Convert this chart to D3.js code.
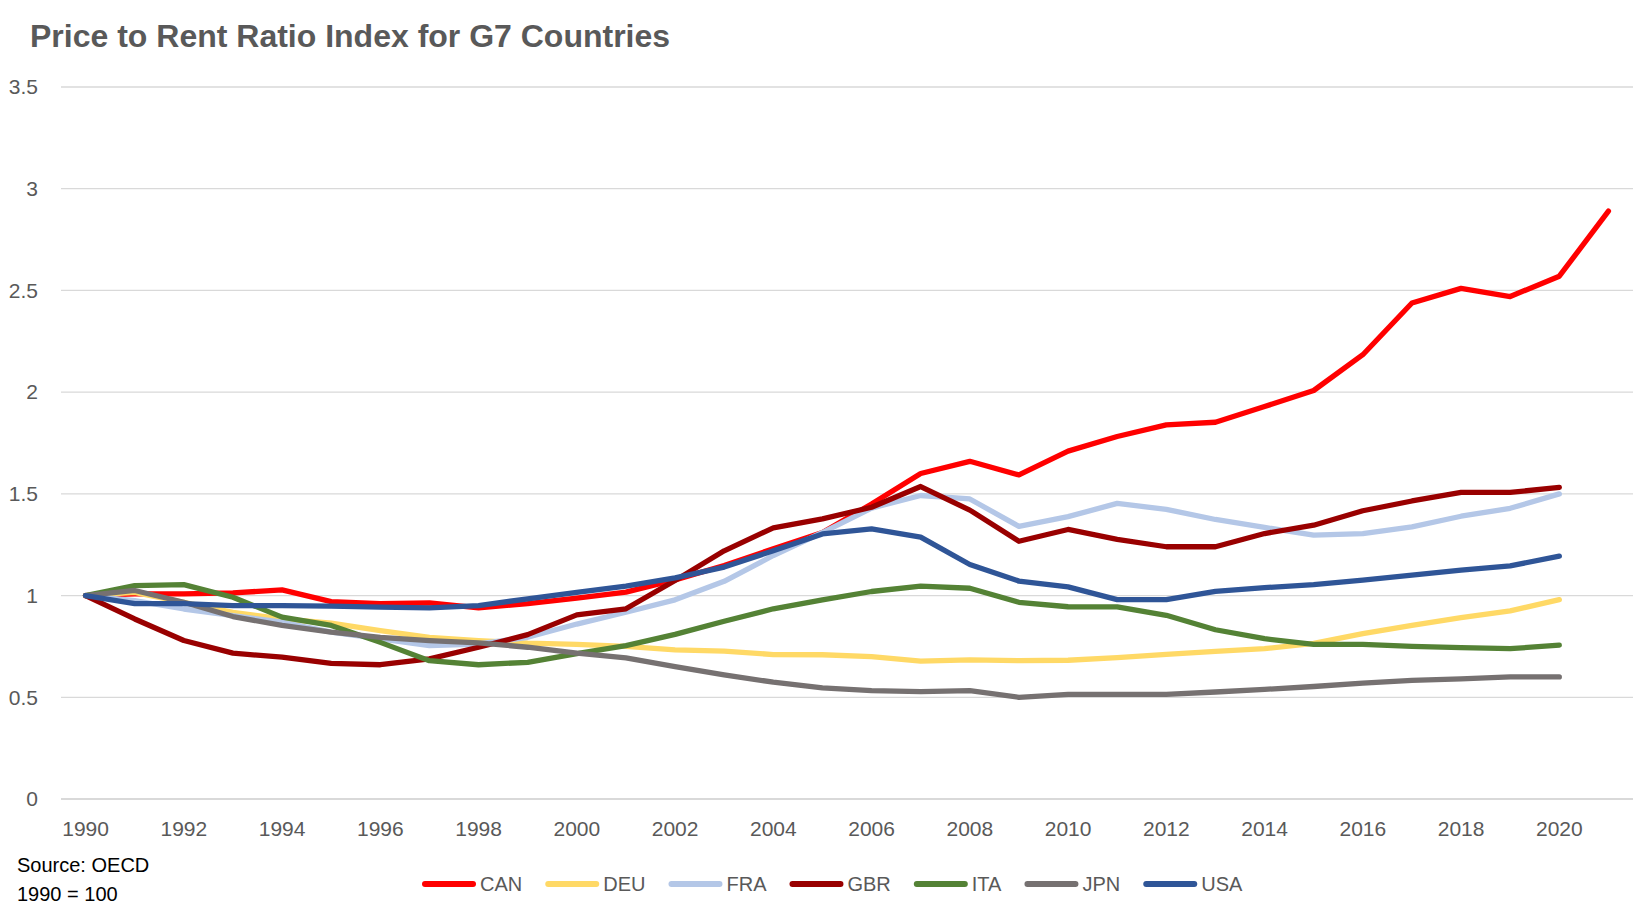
<!DOCTYPE html>
<html>
<head>
<meta charset="utf-8">
<title>Price to Rent Ratio Index for G7 Countries</title>
<script src="https://cdn.jsdelivr.net/npm/d3@7"></script>
<style>
  html, body { margin: 0; padding: 0; background: #ffffff; }
  svg { display: block; font-family: "Liberation Sans", Arial, sans-serif; }
</style>
</head>
<body>
<svg id="chart"></svg>
<script>
// ------------------------------------------------------------
// LINE CHART
// Price to rent ratio index (1990 = 1) for the G7 countries.
// ------------------------------------------------------------

// Years on the category axis (Canada has one extra year).
const years = d3.range(1990, 2022);
const yearTicks = d3.range(1990, 2021, 2);
const yTicks = [0, 0.5, 1, 1.5, 2, 2.5, 3, 3.5];

// Series values, one per year starting in 1990.
const CAN = [1.0, 1.008, 1.008, 1.013, 1.028, 0.97, 0.96, 0.964, 0.94, 0.96,
  0.987, 1.017, 1.077, 1.148, 1.23, 1.31, 1.45, 1.60, 1.66, 1.593,
  1.71, 1.782, 1.839, 1.852, 1.929, 2.008, 2.184, 2.438, 2.51, 2.47,
  2.57, 2.89];
const DEU = [1.0, 1.016, 0.967, 0.918, 0.885, 0.864, 0.828, 0.795, 0.779, 0.766,
  0.76, 0.75, 0.733, 0.727, 0.71, 0.709, 0.70, 0.678, 0.684, 0.68,
  0.682, 0.695, 0.711, 0.726, 0.739, 0.765, 0.813, 0.854, 0.892, 0.925,
  0.98];
const FRA = [1.0, 0.975, 0.934, 0.902, 0.869, 0.82, 0.787, 0.754, 0.762, 0.795,
  0.86, 0.918, 0.979, 1.07, 1.197, 1.31, 1.43, 1.492, 1.475, 1.34,
  1.388, 1.453, 1.424, 1.374, 1.335, 1.297, 1.305, 1.338, 1.39, 1.429,
  1.50];
const GBR = [1.0, 0.885, 0.779, 0.717, 0.697, 0.667, 0.66, 0.689, 0.746, 0.808,
  0.905, 0.935, 1.074, 1.22, 1.333, 1.377, 1.434, 1.536, 1.42, 1.267,
  1.325, 1.276, 1.24, 1.24, 1.305, 1.346, 1.417, 1.465, 1.507, 1.507,
  1.532];
const ITA = [1.0, 1.049, 1.054, 0.992, 0.894, 0.853, 0.77, 0.68, 0.66, 0.672,
  0.715, 0.754, 0.809, 0.874, 0.935, 0.979, 1.02, 1.046, 1.036, 0.967,
  0.945, 0.944, 0.903, 0.832, 0.788, 0.76, 0.76, 0.75, 0.744, 0.739,
  0.756];
const JPN = [1.0, 1.025, 0.967, 0.897, 0.853, 0.82, 0.795, 0.779, 0.767, 0.746,
  0.717, 0.694, 0.651, 0.61, 0.574, 0.546, 0.533, 0.528, 0.533, 0.50,
  0.514, 0.514, 0.514, 0.526, 0.539, 0.553, 0.57, 0.583, 0.591, 0.60,
  0.60];
const USA = [1.0, 0.96, 0.96, 0.951, 0.951, 0.948, 0.943, 0.94, 0.951, 0.984,
  1.016, 1.046, 1.087, 1.14, 1.22, 1.303, 1.328, 1.287, 1.153, 1.071,
  1.043, 0.98, 0.98, 1.021, 1.039, 1.054, 1.076, 1.10, 1.125, 1.146,
  1.194];

const countries = ["CAN", "DEU", "FRA", "GBR", "ITA", "JPN", "USA"];
const colors = ["#ff0000", "#ffd966", "#b4c7e7", "#990000", "#548235", "#767171", "#2f5597"];

// Build the series list the line generator works on.
const seriesData = [CAN, DEU, FRA, GBR, ITA, JPN, USA].map((vals, i) => ({
  name: countries[i],
  color: colors[i],
  points: vals.map((v, j) => ({ year: years[j], value: v }))
}));

// Size of the picture.
const width = 1650;
const height = 918;

const svg = d3.select("#chart")
  .attr("width", width)
  .attr("height", height);

svg.append("rect")
  .attr("width", width)
  .attr("height", height)
  .attr("fill", "#ffffff");

// Scales: one band per year, points sit in the middle of the band.
const x = d3.scaleBand()
  .domain(years)
  .range([61, 1633]);

const y = d3.scaleLinear()
  .domain([0, 3.5])
  .range([799, 87]);

const xMid = yr => x(yr) + x.bandwidth() / 2;

// Title.
svg.append("text")
  .attr("x", 30)
  .attr("y", 47)
  .attr("font-size", 32)
  .attr("font-weight", "bold")
  .attr("fill", "#595959")
  .text("Price to Rent Ratio Index for G7 Countries");

// Horizontal gridlines.
svg.append("g")
  .selectAll("line")
  .data(yTicks)
  .enter()
  .append("line")
  .attr("x1", 61)
  .attr("x2", 1633)
  .attr("y1", d => y(d))
  .attr("y2", d => y(d))
  .attr("stroke", "#d9d9d9")
  .attr("stroke-width", d => d === 0 ? 2 : 1.3);

// Y axis labels.
const yAxis = svg.append("g")
  .attr("transform", "translate(48,0)")
  .call(d3.axisLeft(y).tickValues(yTicks).tickSize(0).tickPadding(10).tickFormat(d3.format("")));
yAxis.select(".domain").remove();
yAxis.selectAll("text")
  .attr("font-size", 21)
  .attr("font-family", "Liberation Sans, Arial, sans-serif")
  .attr("fill", "#595959");

// X axis labels, every second year.
const xAxis = svg.append("g")
  .attr("transform", "translate(0,799)")
  .call(d3.axisBottom(x).tickValues(yearTicks).tickSize(0).tickPadding(22));
xAxis.select(".domain").remove();
xAxis.selectAll("text")
  .attr("font-size", 21)
  .attr("font-family", "Liberation Sans, Arial, sans-serif")
  .attr("fill", "#595959");

// One line per country.
const line = d3.line()
  .x(d => xMid(d.year))
  .y(d => y(d.value));

svg.append("g")
  .selectAll("path")
  .data(seriesData)
  .enter()
  .append("path")
  .attr("d", d => line(d.points))
  .attr("fill", "none")
  .attr("stroke", d => d.color)
  .attr("stroke-width", 5.3)
  .attr("stroke-linejoin", "round")
  .attr("stroke-linecap", "round");

// Source note, bottom left.
svg.append("text")
  .attr("x", 17)
  .attr("y", 872)
  .attr("font-size", 20)
  .attr("fill", "#000000")
  .text("Source: OECD");

svg.append("text")
  .attr("x", 17)
  .attr("y", 901)
  .attr("font-size", 20)
  .attr("fill", "#000000")
  .text("1990 = 100");

// Legend: swatch line then country code, laid out left to right.
const legend = svg.append("g");
let lx = 425;
seriesData.forEach(s => {
  legend.append("line")
    .attr("x1", lx)
    .attr("x2", lx + 48)
    .attr("y1", 884)
    .attr("y2", 884)
    .attr("stroke", s.color)
    .attr("stroke-width", 6)
    .attr("stroke-linecap", "round");

  const t = legend.append("text")
    .attr("x", lx + 55)
    .attr("y", 891)
    .attr("font-size", 20)
    .attr("fill", "#595959")
    .text(s.name);

  lx += 55 + t.node().getComputedTextLength() + 26;
});
</script>
</body>
</html>
